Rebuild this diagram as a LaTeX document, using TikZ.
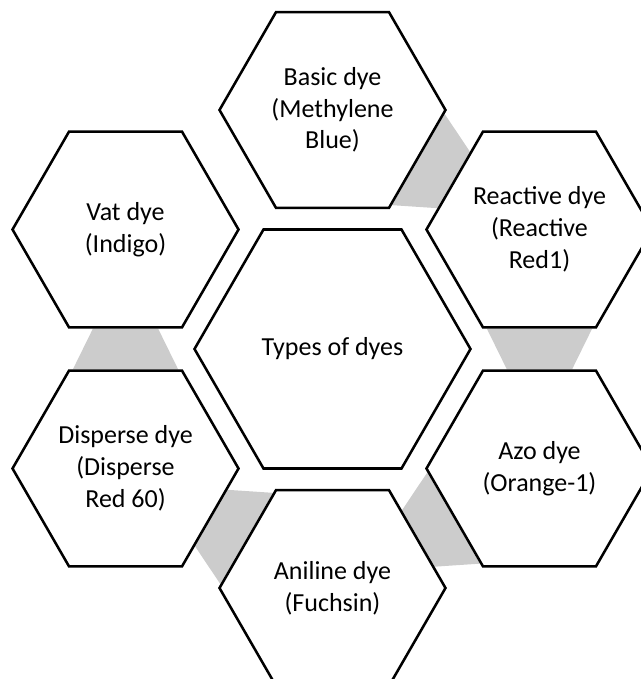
\documentclass[tikz,border=0pt]{standalone}
\usepackage{fontspec}
\setmainfont{Carlito}
\usetikzlibrary{shapes.geometric,backgrounds,calc}
\definecolor{linkgray}{RGB}{204,204,204}
\tikzset{
  hexa/.style={draw, fill=white, line width=1.9pt, regular polygon,
    regular polygon sides=6, minimum size=169.5pt, inner sep=0pt,
    align=center, font=\fontsize{19.5}{23.8}\selectfont},
  hub/.style={hexa, minimum size=207pt},
  link/.style={fill=linkgray}
}
\begin{document}
\begin{tikzpicture}[x=0.75pt,y=0.75pt]
\useasboundingbox (-332.5,-330) rectangle (308.5,349);
\node[hub] (types) at (0,0) {Types of dyes};
\node[hexa] (basic) at (90:239) {Basic dye\\(Methylene\\Blue)};
\node[hexa] (reactive) at (30:239) {Reactive dye\\(Reactive\\Red1)};
\node[hexa] (azo) at (-30:239) {Azo dye\\(Orange-1)};
\node[hexa] (aniline) at (-90:239) {Aniline dye\\(Fuchsin)};
\node[hexa] (disperse) at (-150:239) {Disperse dye\\(Disperse\\Red 60)};
\node[hexa] (vat) at (150:239) {Vat dye\\(Indigo)};
% grey links, wide at the first hexagon, narrow at the next
\begin{scope}[on background layer]
\foreach \s/\d/\a in {basic/reactive/330, reactive/azo/270, azo/aniline/210,
                      aniline/disperse/150, disperse/vat/90}
{
  \pgfmathtruncatemacro\sa{mod(\a+330,360)}
  \pgfmathtruncatemacro\sb{mod(\a+30,360)}
  \pgfmathtruncatemacro\dm{mod(\a+180,360)}
  \pgfmathtruncatemacro\da{mod(\a+150,360)}
  \pgfmathtruncatemacro\db{mod(\a+210,360)}
  \fill[link] ($(\s.\a)!0.92!(\s.\sa)$) -- ($(\s.\a)!0.92!(\s.\sb)$)
    -- ($(\d.\dm)!0.57!(\d.\da)$) -- ($(\d.\dm)!0.57!(\d.\db)$) -- cycle;
}
\end{scope}
\end{tikzpicture}
\end{document}
